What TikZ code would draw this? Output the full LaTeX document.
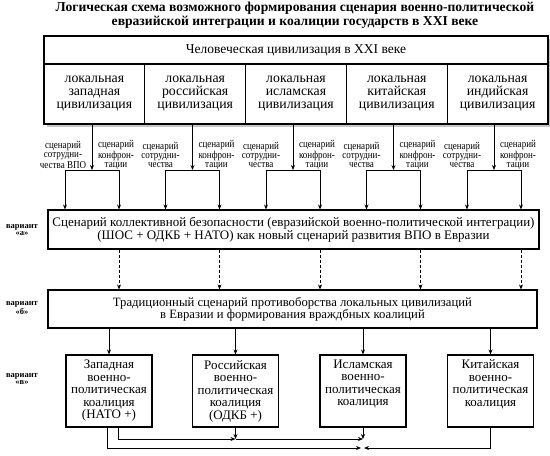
\documentclass[tikz,border=0pt]{standalone}
\usepackage{fontspec}
\setmainfont{Liberation Serif}
\newfontfamily\narrowserif[FakeStretch=0.86]{Liberation Serif}
\usetikzlibrary{arrows.meta}
\begin{document}
\begin{tikzpicture}[x=1pt,y=-1pt,
  box/.style={draw, line width=1.1pt, inner sep=0pt, align=center},
  arr/.style={-{Stealth[length=5pt,width=4pt]}, line width=0.7pt},
  ln/.style={line width=0.7pt},
  dsh/.style={dash pattern=on 3pt off 2pt},
  lbl/.style={font=\narrowserif\fontsize{10.5}{9}\selectfont, align=center, inner sep=0pt},
  var/.style={font=\fontsize{8.5}{7.5}\selectfont\bfseries, align=center, inner sep=0pt},
  big/.style={font=\fontsize{13}{13}\selectfont},
  civ/.style={box, fill=white, minimum width=100.8pt, minimum height=60pt, font=\fontsize{13.8}{13}\selectfont},
  coal/.style={box, minimum width=86pt, minimum height=72pt, font=\fontsize{13}{12.5}\selectfont},
]
\useasboundingbox (0,0) rectangle (550,456);
% title
\node[font=\fontsize{13.6}{14}\selectfont\bfseries, align=center, inner sep=0pt] (title) at (295,15)
  {Логическая схема возможного формирования сценария военно-политической\\евразийской интеграции и коалиции государств в XXI веке};
% top box with shadow
\fill[black!22] (46.5,38.5) rectangle (550,126.5);
\node[box, fill=white, minimum width=504pt, minimum height=28pt, font=\fontsize{13.5}{13}\selectfont] (head) at (296,50) {Человеческая цивилизация в XXI веке};
\node[civ] (c1) at (94.4,94) {локальная\\западная\\цивилизация};
\node[civ] (c2) at (195.2,94) {локальная\\российская\\цивилизация};
\node[civ] (c3) at (296,94) {локальная\\исламская\\цивилизация};
\node[civ] (c4) at (396.8,94) {локальная\\китайская\\цивилизация};
\node[civ] (c5) at (497.6,94) {локальная\\индийская\\цивилизация};
% variant a
\node[box, minimum width=491pt, minimum height=39pt, big] (a) at (293.5,229.5)
  {Сценарий коллективной безопасности (евразийской военно-политической интеграции)\\(ШОС + ОДКБ + НАТО) как новый сценарий развития ВПО в Евразии};
\node[var] (va) at (22,230) {вариант\\«а»};
% variant b
\node[box, minimum width=489pt, minimum height=38pt, font=\fontsize{12.7}{12}\selectfont] (b) at (292.5,309)
  {Традиционный сценарий противоборства локальных цивилизаций\\в Евразии и формирования враждбных коалиций};
\node[var] (vb) at (22,308) {вариант\\«б»};
% variant c
\node[coal] (k1) at (109,391) {Западная\\военно-\\политическая\\коалиция\\(НАТО +)};
\node[coal] (k2) at (235.5,391) {Российская\\военно-\\политическая\\коалиция\\(ОДКБ +)};
\node[coal] (k3) at (363,391) {Исламская\\военно-\\политическая\\коалиция\\\strut};
\node[coal] (k4) at (490.5,391) {Китайская\\военно-\\политическая\\коалиция\\\strut};
\node[var] (vc) at (22,379) {вариант\\«в»};
% branches
\foreach \i/\g/\c in {1/92/c1, 2/192.5/c2, 3/293/c3, 4/393.5/c4, 5/494/c5} {
  \coordinate (j\i) at (\g,170);
  \coordinate (l\i) at (\g-27,170);
  \coordinate (r\i) at (\g+27,170);
  \draw[arr] (\c.south -| j\i) -- (j\i);
  \draw[ln] (l\i) -- (r\i);
  \draw[arr] (l\i) -- (l\i |- a.north);
  \draw[arr] (r\i) -- (r\i |- a.north);
  \draw[arr, dsh] (r\i |- a.south) -- (r\i |- b.north);
}
\node[lbl] (s1) at (63,155) {сценарий\\сотрудни-\\чества ВПО};
\node[lbl] (f1) at (116,155) {сценарий\\конфрон-\\тации};
\node[lbl] (s2) at (160.5,155) {сценарий\\сотрудни-\\чества};
\node[lbl] (f2) at (216.5,155) {сценарий\\конфрон-\\тации};
\node[lbl] (s3) at (261,155) {сценарий\\сотрудни-\\чества};
\node[lbl] (f3) at (317,155) {сценарий\\конфрон-\\тации};
\node[lbl] (s4) at (361.5,155) {сценарий\\сотрудни-\\чества};
\node[lbl] (f4) at (417.5,155) {сценарий\\конфрон-\\тации};
\node[lbl] (s5) at (462,155) {сценарий\\сотрудни-\\чества};
\node[lbl] (f5) at (518,155) {сценарий\\конфрон-\\тации};
% b to coalitions
\foreach \k in {k1,k2,k3,k4} {
  \draw[arr] (b.south -| \k.north) -- (\k.north);
}
% bottom connectors
\coordinate (m1) at (118,439);
\coordinate (m2) at (107,448);
\coordinate (mc) at (362.5,448);
\draw[arr] (k1.south -| m1) -- (m1) -- (k2.south |- m1);
\draw[arr] (k2.south |- m1) -- (k3.south |- m1);
\draw[arr] (k2.south) -- (k2.south |- m1);
\draw[arr] (k3.south) -- (k3.south |- m1);
\draw[arr] (k1.south -| m2) -- (m2) -- ([xshift=-1.5pt]mc);
\draw[arr] (k4.south) -- (k4.south |- m2) -- ([xshift=1.5pt]mc);
\end{tikzpicture}
\end{document}
